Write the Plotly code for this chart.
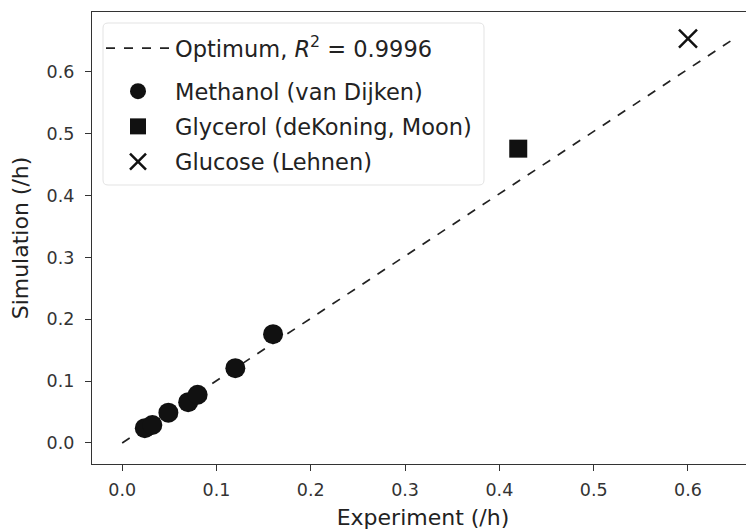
import plotly.graph_objects as go

# Data
opt_x = [0.0, 0.65]
opt_y = [0.0, 0.655]
meth_x = [0.024, 0.032, 0.049, 0.070, 0.080, 0.120, 0.160]
meth_y = [0.024, 0.029, 0.049, 0.066, 0.078, 0.121, 0.176]
glyc_x = [0.42]
glyc_y = [0.476]
gluc_x = [0.60]
gluc_y = [0.654]
ticks = [0.0, 0.1, 0.2, 0.3, 0.4, 0.5, 0.6]
tick_labels = ["0.0", "0.1", "0.2", "0.3", "0.4", "0.5", "0.6"]

fig = go.Figure()
fig.add_trace(go.Scatter(x=opt_x, y=opt_y, mode="lines", legend="legend",
                         line=dict(color="#222222", width=1.7, dash="dash"),
                         name="Optimum, <i>R</i><sup>2</sup> = 0.9996"))
fig.add_trace(go.Scatter(x=meth_x, y=meth_y, mode="markers", legend="legend2",
                         legendgroup="b",
                         marker=dict(symbol="circle", size=20, color="#111111"),
                         name="Methanol (van Dijken)"))
fig.add_trace(go.Scatter(x=glyc_x, y=glyc_y, mode="markers", legend="legend2",
                         legendgroup="c",
                         marker=dict(symbol="square", size=18, color="#111111"),
                         name="Glycerol (deKoning, Moon)"))
fig.add_trace(go.Scatter(x=gluc_x, y=gluc_y, mode="markers", legend="legend2",
                         legendgroup="d",
                         marker=dict(symbol="x-thin", size=18, color="#111111",
                                     line=dict(width=2.5, color="#111111")),
                         name="Glucose (Lehnen)"))

axis_common = dict(showgrid=False, zeroline=False, showline=True, mirror=True,
                   linecolor="#333333", linewidth=1.3, ticks="outside", ticklen=6,
                   tickcolor="#333333", tickfont=dict(size=17.5, color="#333333"),
                   tickvals=ticks, ticktext=tick_labels)

# legend frame (rounded rectangle, plot-area fractions; plot area 662 x 452 px)
pw, ph = 662, 452
x0, x1, y0, y1 = 11 / pw, 392 / pw, 279 / ph, 441 / ph
rx, ry = 5 / pw, 5 / ph
frame = (f"M {x0+rx},{y0} L {x1-rx},{y0} Q {x1},{y0} {x1},{y0+ry} "
         f"L {x1},{y1-ry} Q {x1},{y1} {x1-rx},{y1} L {x0+rx},{y1} "
         f"Q {x0},{y1} {x0},{y1-ry} L {x0},{y0+ry} Q {x0},{y0} {x0+rx},{y0} Z")

leg_common = dict(xanchor="left", yanchor="top", bgcolor="rgba(0,0,0,0)",
                  borderwidth=0, font=dict(size=22.5, color="#222222"),
                  itemwidth=64)

fig.update_layout(
    width=746, height=522,
    margin=dict(l=84, r=0, t=4, b=66),
    paper_bgcolor="white", plot_bgcolor="white",
    font=dict(family="DejaVu Sans", color="#222222"),
    xaxis=dict(range=[-0.032, 0.670], ticklabelstandoff=4,
               title=dict(text="Experiment (/h)", font=dict(size=22), standoff=12),
               **axis_common),
    yaxis=dict(range=[-0.034, 0.697], ticklabelstandoff=7,
               title=dict(text="Simulation (/h)", font=dict(size=22), standoff=14),
               **axis_common),
    shapes=[dict(type="path", path=frame, xref="paper", yref="paper",
                 fillcolor="white", line=dict(color="#e3e3e3", width=1),
                 layer="above")],
    legend=dict(x=9 / pw, y=437 / ph, **leg_common),
    legend2=dict(x=9 / pw, y=394 / ph, tracegroupgap=3, **leg_common),
    showlegend=True,
)

fig.write_html("out.html")
